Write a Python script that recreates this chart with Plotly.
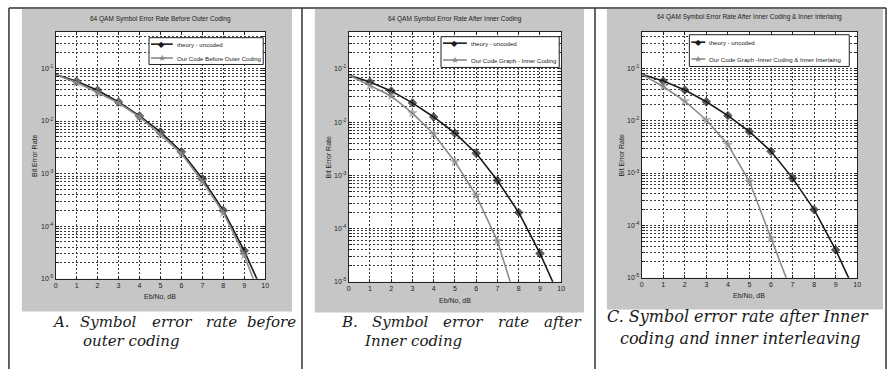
import plotly.graph_objects as go

W, H = 893, 372

# ---------------- data ----------------
snr_a = [0, 1, 2, 3, 4, 5, 6, 7, 8, 9, 10]
theory = [0.077, 0.057, 0.0386, 0.023, 0.0125, 0.0062, 0.0026, 8.0e-4, 2.0e-4, 3.4e-5, 4.4e-6]
coded_a = [0.076, 0.054, 0.035, 0.022, 0.012, 0.0055, 0.0024, 7.1e-4, 1.8e-4, 2.8e-5, 2.5e-6]
snr_b = [0, 1, 2, 3, 4, 5, 6, 7, 8]
coded_b = [0.077, 0.049, 0.031, 0.0148, 0.006, 0.0018, 4.2e-4, 5.8e-5, 3.1e-6]
snr_c = [0, 1, 2, 3, 4, 5, 6, 7]
coded_c = [0.077, 0.045, 0.0236, 0.0103, 0.0035, 6.9e-4, 5.7e-5, 4.8e-6]

titles = [
    "64 QAM Symbol Error Rate Before Outer Coding",
    "64 QAM Symbol Error Rate After Inner Coding",
    "64 QAM Symbol Error Rate After Inner Coding & Inner Interlaing",
]
coded_names = [
    "Our Code Before Outer Coding",
    "Our Code Graph - Inner Coding",
    "Our Code Graph -Inner Coding & Inner Interlaing",
]
theory_name = "theory - uncoded"
x_title = "Eb/No, dB"
y_title = "Bit Error Rate"
x_ticks = [0, 1, 2, 3, 4, 5, 6, 7, 8, 9, 10]
decades = [-5, -4, -3, -2, -1]

# ---------------- layout geometry (pixels) ----------------
plots = [  # x0, x1, y0(top), y1(bottom)
    (54, 265, 32, 281),
    (349, 563, 32, 284),
    (644, 861, 32, 280),
]
grays = [(20, 292, 9, 314), (315, 586, 9, 315), (609, 887, 9, 312)]
vlines = [7, 302, 597, 890]
# manual legend boxes: x0, x1, y0, y1, item1 y, item2 y, sample x0, sample x1, text x
legends = [
    (148, 263, 38, 65, 44.5, 58.5, 150, 172, 174),
    (442, 561, 37, 68, 43.5, 60.5, 444, 468, 470),
    (692, 853, 35, 67, 42.5, 59.5, 694, 708, 710),
]


def px(x):
    return x / W


def py(y):
    return 1 - y / H


SMALL = "Liberation Sans, Arial, sans-serif"
GRAY_BG = "#c6c6c6"
GRID = "#3a3a3a"
C_THEORY = "#1a1a1a"
C_CODED = "#8c8c8c"

fig = go.Figure()

series = [(snr_a, coded_a), (snr_b, coded_b), (snr_c, coded_c)]
for i, (sx, sy) in enumerate(series):
    ax = "" if i == 0 else str(i + 1)
    fig.add_trace(go.Scatter(
        x=snr_a, y=theory, name=theory_name, mode="lines+markers",
        line=dict(color=C_THEORY, width=1.6),
        marker=dict(symbol="diamond", size=[0] + [6.5] * (len(snr_a) - 1), color=C_THEORY,
                    line=dict(color=C_THEORY, width=1)),
        xaxis="x" + ax, yaxis="y" + ax, showlegend=False,
    ))
    fig.add_trace(go.Scatter(
        x=sx, y=sy, name=coded_names[i], mode="lines+markers",
        line=dict(color=C_CODED, width=1.6),
        marker=dict(symbol="star", size=[0] + [7] * (len(sx) - 1), color=C_CODED,
                    line=dict(color=C_CODED, width=0.5)),
        xaxis="x" + ax, yaxis="y" + ax, showlegend=False,
    ))

# y ticks: every 1..9 x decade gets a gridline, only decades are labelled
ytv, ytt = [], []
for d in decades:
    for m in range(1, 10):
        ytv.append(m * 10.0 ** d)
        ytt.append(f"10<sup>{d}</sup>" if m == 1 else "")

layout = dict(
    width=W, height=H, margin=dict(l=0, r=0, t=0, b=0),
    paper_bgcolor="white", plot_bgcolor="rgba(0,0,0,0)",
    showlegend=False, shapes=[], annotations=[],
    font=dict(family=SMALL, size=7, color="#222"),
)

for i, (x0, x1, y0, y1) in enumerate(plots):
    ax = "" if i == 0 else str(i + 1)
    layout["xaxis" + ax] = dict(
        domain=[px(x0), px(x1)], range=[0, 10], anchor="y" + ax,
        tickvals=x_ticks, ticks="inside", ticklen=3, tickcolor="#222",
        showline=True, linecolor="#222", linewidth=1, mirror="ticks",
        showgrid=True, gridcolor=GRID, gridwidth=1, griddash="2px,2px",
        zeroline=False, tickfont=dict(family=SMALL, size=7, color="#222"),
    )
    layout["yaxis" + ax] = dict(
        domain=[py(y1), py(y0)], type="log", range=[-5, 0.69897 - 1], anchor="x" + ax,
        tickvals=ytv, ticktext=ytt, ticks="inside", ticklen=3, tickcolor="#222",
        showline=True, linecolor="#222", linewidth=1, mirror="ticks",
        showgrid=True, gridcolor=GRID, gridwidth=1, griddash="2px,2px",
        zeroline=False, tickfont=dict(family=SMALL, size=7, color="#222"),
    )

shapes = layout["shapes"]
ann = layout["annotations"]

# table lines and gray figure backgrounds
shapes.append(dict(type="line", xref="paper", yref="paper", x0=px(7), x1=px(890),
                   y0=py(8), y1=py(8), line=dict(color="#333", width=1.5), layer="below"))
for (gx0, gx1, gy0, gy1) in grays:
    shapes.append(dict(type="rect", xref="paper", yref="paper", x0=px(gx0), x1=px(gx1),
                       y0=py(gy1), y1=py(gy0), fillcolor=GRAY_BG, line=dict(width=0),
                       layer="below"))
for (x0, x1, y0, y1) in plots:
    shapes.append(dict(type="rect", xref="paper", yref="paper", x0=px(x0), x1=px(x1),
                       y0=py(y1), y1=py(y0), fillcolor="white", line=dict(width=0),
                       layer="below"))
for vx in vlines:
    shapes.append(dict(type="line", xref="paper", yref="paper", x0=px(vx), x1=px(vx),
                       y0=py(8), y1=0, line=dict(color="#333", width=1.5), layer="above"))

# legends (drawn as boxes with sample lines, glyphs and text)
for i, (lx0, lx1, ly0, ly1, iy1, iy2, sx0, sx1, tx) in enumerate(legends):
    shapes.append(dict(type="rect", xref="paper", yref="paper", x0=px(lx0), x1=px(lx1),
                       y0=py(ly1), y1=py(ly0), fillcolor="white",
                       line=dict(color="#222", width=1), layer="above"))
    for (iy, col, glyph, gsize, name) in [
        (iy1, C_THEORY, "\u25c6", 8, theory_name),
        (iy2, C_CODED, "\u2605", 9, coded_names[i]),
    ]:
        shapes.append(dict(type="line", xref="paper", yref="paper", x0=px(sx0), x1=px(sx1),
                           y0=py(iy), y1=py(iy), line=dict(color=col, width=1.6), layer="above"))
        ann.append(dict(text=glyph, x=px((sx0 + sx1) / 2), y=py(iy), xref="paper", yref="paper",
                        showarrow=False, xanchor="center", yanchor="middle",
                        font=dict(family="DejaVu Sans", size=gsize, color=col)))
        ann.append(dict(text=name, x=px(tx), y=py(iy), xref="paper", yref="paper",
                        showarrow=False, xanchor="left", yanchor="middle",
                        font=dict(family=SMALL, size=6.1, color="#222")))

title_y = [19, 19, 17]
xt_y = [299, 303, 298]
yt_x = [32, 329, 624]
for i, (x0, x1, y0, y1) in enumerate(plots):
    cx = (x0 + x1) / 2
    ann.append(dict(text=titles[i], x=px(cx), y=py(title_y[i]), xref="paper", yref="paper",
                    showarrow=False, xanchor="center", yanchor="middle",
                    font=dict(family=SMALL, size=6.5, color="#222")))
    ann.append(dict(text=x_title, x=px(cx), y=py(xt_y[i]), xref="paper", yref="paper",
                    showarrow=False, xanchor="center", yanchor="middle",
                    font=dict(family=SMALL, size=7, color="#222")))
    ann.append(dict(text=y_title, x=px(yt_x[i]), y=py((y0 + y1) / 2), xref="paper", yref="paper",
                    showarrow=False, xanchor="center", yanchor="middle", textangle=-90,
                    font=dict(family=SMALL, size=7, color="#222")))

# captions (justified words): text, left x, centre y, font size
cap_words = [
    ("A.", 48, 325, 15), ("Symbol", 77, 325, 15), ("error", 149, 325, 15),
    ("rate", 203, 325, 15), ("before", 245, 325, 15),
    ("outer coding", 80, 344, 15),
    ("B.", 339, 325, 15), ("Symbol", 370, 325, 15), ("error", 442, 325, 15),
    ("rate", 497, 325, 15), ("after", 544, 325, 15),
    ("Inner coding", 362, 344, 15),
    ("C. Symbol error rate after Inner", 607, 319, 16),
    ("coding and inner interleaving", 620, 341, 16),
]
for txt, x, y, fs in cap_words:
    ann.append(dict(text=f"<i>{txt}</i>", x=px(x), y=py(y), xref="paper", yref="paper",
                    showarrow=False, xanchor="left", yanchor="middle",
                    font=dict(family="DejaVu Serif, serif", size=fs, color="#1a1a1a")))

fig.update_layout(**layout)
fig.write_html("out.html", config={"displayModeBar": False},
               post_script="document.body.style.margin='0px';")
